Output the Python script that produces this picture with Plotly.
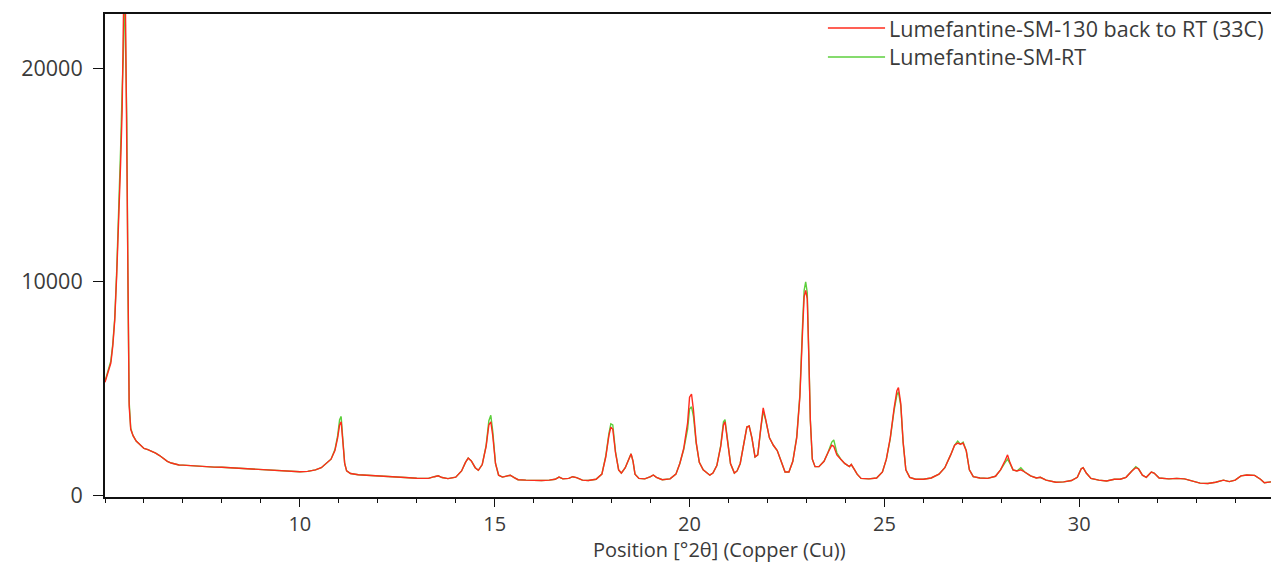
import plotly.graph_objects as go

# Diffraction angle (°2θ) shared by both scans
two_theta = [
    5.00, 5.05, 5.10, 5.15, 5.20, 5.25, 5.30, 5.35, 5.40, 5.44, 5.47, 5.50, 5.53, 5.56, 5.59, 5.62, 5.66, 5.72,
    5.80, 5.90, 6.00, 6.10, 6.20, 6.30, 6.40, 6.50, 6.60, 6.70, 6.80, 6.90, 7.00, 7.20, 7.40, 7.60, 7.80,
    8.00, 8.20, 8.40, 8.60, 8.80, 9.00, 9.20, 9.40, 9.60, 9.80, 10.00, 10.20, 10.40, 10.55, 10.70, 10.80,
    10.90, 10.97, 11.02, 11.06, 11.10, 11.15, 11.20, 11.30, 11.50, 11.80, 12.10, 12.40, 12.70, 13.00, 13.30,
    13.45, 13.55, 13.65, 13.80, 14.00, 14.15, 14.25, 14.32, 14.40, 14.50, 14.58, 14.68, 14.78, 14.85, 14.90,
    14.95, 15.02, 15.10, 15.20, 15.32, 15.40, 15.50, 15.60, 15.80, 16.00, 16.20, 16.40, 16.55, 16.65, 16.75,
    16.90, 17.00, 17.10, 17.25, 17.40, 17.60, 17.75, 17.85, 17.93, 17.98, 18.03, 18.10, 18.18, 18.25, 18.35,
    18.45, 18.50, 18.55, 18.60, 18.70, 18.85, 19.00, 19.07, 19.15, 19.30, 19.50, 19.65, 19.75, 19.85, 19.95,
    20.00, 20.05, 20.10, 20.17, 20.25, 20.35, 20.45, 20.52, 20.60, 20.70, 20.80, 20.87, 20.91, 20.96, 21.05,
    21.15, 21.22, 21.30, 21.40, 21.47, 21.53, 21.60, 21.68, 21.75, 21.83, 21.89, 21.95, 22.05, 22.15, 22.25,
    22.35, 22.45, 22.55, 22.65, 22.75, 22.83, 22.90, 22.94, 22.98, 23.02, 23.06, 23.10, 23.15, 23.22, 23.32,
    23.45, 23.55, 23.65, 23.70, 23.78, 23.88, 23.98, 24.10, 24.15, 24.22, 24.30, 24.40, 24.60, 24.80, 24.95,
    25.05, 25.15, 25.25, 25.32, 25.36, 25.42, 25.48, 25.55, 25.65, 25.80, 26.00, 26.20, 26.40, 26.55, 26.70,
    26.80, 26.88, 26.95, 27.02, 27.10, 27.18, 27.28, 27.45, 27.65, 27.85, 27.98, 28.10, 28.16, 28.22, 28.30,
    28.40, 28.50, 28.60, 28.75, 28.90, 29.00, 29.15, 29.40, 29.60, 29.80, 29.95, 30.05, 30.10, 30.18, 30.30,
    30.50, 30.70, 30.90, 31.05, 31.20, 31.35, 31.45, 31.52, 31.62, 31.72, 31.85, 31.92, 32.05, 32.30, 32.50,
    32.70, 32.90, 33.10, 33.30, 33.50, 33.70, 33.85, 34.00, 34.15, 34.30, 34.50, 34.65, 34.75, 34.92,
]

# Counts, sample heated to 130 and brought back to RT
counts_130_back = [
    5300, 5600, 5900, 6200, 7000, 8200, 10300, 12600, 15500, 18000, 21500, 26000, 22000, 17000, 9000, 4200, 3100, 2800,
    2550, 2350, 2200, 2150, 2080, 1980, 1870, 1720, 1600, 1520, 1460, 1430, 1420, 1390, 1370, 1350, 1330,
    1320, 1300, 1290, 1270, 1250, 1230, 1200, 1170, 1140, 1120, 1110, 1130, 1200, 1300, 1550, 1700,
    2100, 2700, 3300, 3450, 2600, 1500, 1150, 1030, 970, 930, 900, 870, 840, 810, 800,
    880, 920, 840, 790, 860, 1150, 1550, 1750, 1620, 1300, 1180, 1450, 2300, 3300, 3450,
    2800, 1500, 950, 860, 920, 950, 840, 740, 720, 700, 700, 720, 760, 860, 780,
    800, 880, 840, 720, 700, 760, 1000, 1800, 2800, 3200, 3100, 2000, 1200, 1050, 1300,
    1750, 1950, 1600, 1000, 800, 780, 880, 960, 850, 740, 780, 1000, 1500, 2200, 3400,
    4600, 4750, 4000, 2500, 1550, 1200, 1050, 950, 1050, 1400, 2300, 3300, 3450, 2800, 1500,
    1050, 1150, 1500, 2500, 3200, 3250, 2700, 1800, 1900, 3200, 4100, 3600, 2700, 2350, 2100,
    1600, 1100, 1100, 1600, 2700, 4600, 7700, 9300, 9600, 9200, 6500, 3500, 1700, 1350, 1350,
    1600, 2000, 2350, 2300, 1900, 1700, 1500, 1350, 1450, 1250, 1000, 800, 780, 820, 1100,
    1700, 2700, 4100, 4900, 5050, 4300, 2500, 1200, 850, 760, 760, 820, 1000, 1300, 1900,
    2350, 2450, 2400, 2450, 2100, 1200, 880, 820, 800, 900, 1200, 1650, 1900, 1550, 1200,
    1150, 1200, 1100, 920, 820, 850, 720, 620, 640, 700, 850, 1250, 1300, 1050, 800,
    720, 680, 760, 760, 850, 1150, 1300, 1250, 950, 850, 1100, 1050, 820, 780, 800,
    780, 680, 580, 560, 620, 720, 650, 720, 920, 960, 940, 760, 600, 640,
]

# Counts, sample measured at RT
counts_rt = [
    5350, 5700, 6000, 6300, 7100, 8300, 10500, 13000, 16200, 19000, 20500, 24000, 21500, 17500, 9500, 4400, 3150, 2800,
    2550, 2350, 2200, 2150, 2080, 1980, 1870, 1720, 1600, 1520, 1460, 1430, 1420, 1390, 1370, 1350, 1330,
    1320, 1300, 1290, 1270, 1250, 1230, 1200, 1170, 1140, 1120, 1110, 1130, 1200, 1300, 1550, 1700,
    2150, 2800, 3550, 3700, 2700, 1500, 1150, 1030, 970, 930, 900, 870, 840, 810, 800,
    880, 920, 840, 790, 860, 1150, 1550, 1750, 1620, 1300, 1180, 1450, 2350, 3500, 3750,
    3000, 1500, 950, 860, 920, 950, 840, 740, 720, 700, 700, 720, 760, 860, 780,
    800, 880, 840, 720, 700, 760, 1000, 1850, 2900, 3350, 3300, 2050, 1200, 1050, 1300,
    1750, 1950, 1600, 1000, 800, 780, 880, 960, 850, 740, 780, 1000, 1500, 2150, 3100,
    4050, 4150, 3700, 2450, 1550, 1200, 1050, 950, 1050, 1400, 2350, 3450, 3550, 2850, 1500,
    1050, 1150, 1500, 2500, 3200, 3250, 2700, 1800, 1900, 3150, 3950, 3550, 2700, 2350, 2100,
    1600, 1100, 1100, 1600, 2750, 4700, 8000, 9600, 10000, 9500, 6600, 3500, 1700, 1350, 1350,
    1600, 2000, 2500, 2600, 2000, 1700, 1500, 1350, 1450, 1250, 1000, 800, 780, 820, 1100,
    1700, 2650, 4000, 4700, 4850, 4200, 2500, 1200, 850, 760, 760, 820, 1000, 1300, 1900,
    2350, 2550, 2400, 2500, 2100, 1200, 880, 820, 800, 900, 1200, 1550, 1700, 1500, 1200,
    1150, 1300, 1100, 920, 820, 850, 720, 620, 640, 700, 850, 1250, 1300, 1050, 800,
    720, 680, 760, 760, 850, 1150, 1350, 1250, 950, 850, 1100, 1050, 820, 780, 800,
    780, 680, 580, 560, 620, 720, 650, 720, 920, 960, 940, 760, 600, 640,
]

series_names = ["Lumefantine-SM-130 back to RT (33C)", "Lumefantine-SM-RT"]
series_colors = ["#ff2b1c", "#5ccf3c"]
x_ticks = [10, 15, 20, 25, 30]
y_ticks = [0, 10000, 20000]

FONT = "Open Sans, Noto Sans, sans-serif"
TEXT = "#3a3a3a"
FS = 21.5
FS_X = 20

fig = go.Figure()
# green underneath, red on top
fig.add_trace(go.Scatter(x=two_theta, y=counts_rt, mode="lines", name=series_names[1],
                         line=dict(color=series_colors[1], width=1.4), showlegend=False))
fig.add_trace(go.Scatter(x=two_theta, y=counts_130_back, mode="lines", name=series_names[0],
                         line=dict(color=series_colors[0], width=1.4), showlegend=False))

# legend drawn as line samples plus labels in the upper right corner
legend_rows = [(0.971, series_names[0], series_colors[0]), (0.911, series_names[1], series_colors[1])]
for ypos, label, color in legend_rows:
    fig.add_shape(type="line", xref="paper", yref="paper", x0=0.620, x1=0.669, y0=ypos, y1=ypos,
                  line=dict(color=color, width=1.6))
    fig.add_annotation(xref="paper", yref="paper", x=0.671, y=ypos, text=label, showarrow=False,
                       xanchor="left", yanchor="middle", font=dict(family=FONT, size=FS, color=TEXT))

# axis title sits at the bottom edge of the figure
fig.add_annotation(xref="paper", yref="paper", x=0.527, y=-0.1385, text="Position [°2θ] (Copper (Cu))",
                   showarrow=False, xanchor="center", yanchor="bottom", borderpad=0,
                   font=dict(family=FONT, size=FS_X, color=TEXT))

fig.update_xaxes(range=[5.0, 34.92], tickmode="array", tickvals=x_ticks, ticks="outside", ticklen=8,
                 tickwidth=1.2, tickcolor="#111", showline=True, linecolor="#111", linewidth=2, mirror=True,
                 showgrid=False, zeroline=False, tickfont=dict(family=FONT, size=FS_X, color=TEXT),
                 minor=dict(tickmode="linear", tick0=0, dtick=1, ticks="outside", ticklen=4,
                            tickcolor="#111", tickwidth=1.2, showgrid=False))
fig.update_yaxes(range=[-70, 22530], tickmode="array", tickvals=y_ticks, tickformat="d", ticks="outside",
                 ticklen=10, tickwidth=1.2, tickcolor="#111", showline=True, linecolor="#111", linewidth=2,
                 showgrid=False, zeroline=False, tickfont=dict(family=FONT, size=FS, color=TEXT),
                 ticklabelstandoff=6)

fig.update_layout(width=1271, height=564, margin=dict(l=105, r=0, t=14, b=67),
                  paper_bgcolor="white", plot_bgcolor="white", showlegend=False)

fig.write_html("out.html")
